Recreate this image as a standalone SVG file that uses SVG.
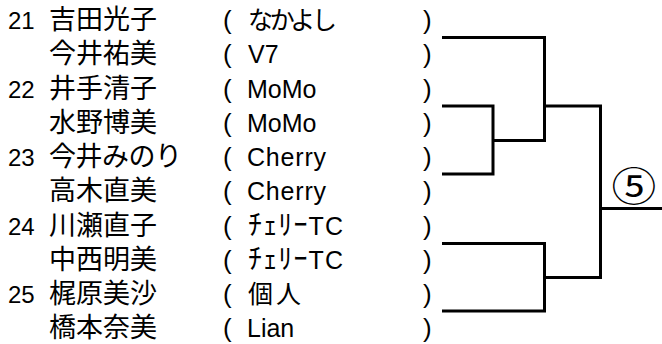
<svg xmlns="http://www.w3.org/2000/svg" width="662" height="344" viewBox="0 0 662 344">
<style>
text{font-family:"Liberation Sans","Noto Sans CJK JP",sans-serif;fill:#000}
.num{font-size:24px}
.name{font-family:"Noto Sans CJK JP",sans-serif;font-size:27px}
.par{font-size:26px}
.club{font-size:25px}
.jclub{font-family:"Noto Sans CJK JP",sans-serif;font-size:25px}
.kana{font-family:"Noto Sans CJK JP",sans-serif;font-size:28px}
.seed{font-family:"Noto Sans CJK JP",sans-serif;font-size:40px}
.ln{fill:none;stroke:#000;stroke-width:3;stroke-linejoin:miter;stroke-linecap:butt}
</style>
<rect width="662" height="344" fill="#fff"/>
<g id="row1">
<text class="num" x="8" y="29">21</text>
<text class="name" x="49" y="29">吉田光子</text>
<text class="par" x="223" y="29">(</text>
<text class="jclub" x="248" y="29" textLength="89">なかよし</text>
<text class="par" x="423" y="29">)</text>
</g>
<g id="row2">
<text class="name" x="49" y="63.25">今井祐美</text>
<text class="par" x="223" y="63.25">(</text>
<text class="club" x="248" y="63.25">V7</text>
<text class="par" x="423" y="63.25">)</text>
</g>
<g id="row3">
<text class="num" x="8" y="97.5">22</text>
<text class="name" x="49" y="97.5">井手清子</text>
<text class="par" x="223" y="97.5">(</text>
<text class="club" x="247" y="97.5">MoMo</text>
<text class="par" x="423" y="97.5">)</text>
</g>
<g id="row4">
<text class="name" x="49" y="131.75">水野博美</text>
<text class="par" x="223" y="131.75">(</text>
<text class="club" x="247" y="131.75">MoMo</text>
<text class="par" x="423" y="131.75">)</text>
</g>
<g id="row5">
<text class="num" x="8" y="166">23</text>
<text class="name" x="49" y="166" textLength="133">今井みのり</text>
<text class="par" x="223" y="166">(</text>
<text class="club" x="247" y="166" textLength="79">Cherry</text>
<text class="par" x="423" y="166">)</text>
</g>
<g id="row6">
<text class="name" x="49" y="200.25">高木直美</text>
<text class="par" x="223" y="200.25">(</text>
<text class="club" x="247" y="200.25" textLength="79">Cherry</text>
<text class="par" x="423" y="200.25">)</text>
</g>
<g id="row7">
<text class="num" x="8" y="234.5">24</text>
<text class="name" x="49" y="234.5">川瀬直子</text>
<text class="par" x="223" y="234.5">(</text>
<text class="club" x="248" y="234.5" textLength="95"><tspan class="kana">ﾁｪﾘｰ</tspan>TC</text>
<text class="par" x="423" y="234.5">)</text>
</g>
<g id="row8">
<text class="name" x="49" y="268.75">中西明美</text>
<text class="par" x="223" y="268.75">(</text>
<text class="club" x="248" y="268.75" textLength="95"><tspan class="kana">ﾁｪﾘｰ</tspan>TC</text>
<text class="par" x="423" y="268.75">)</text>
</g>
<g id="row9">
<text class="num" x="8" y="303">25</text>
<text class="name" x="49" y="303">梶原美沙</text>
<text class="par" x="223" y="303">(</text>
<text class="jclub" x="248" y="303" textLength="53">個人</text>
<text class="par" x="423" y="303">)</text>
</g>
<g id="row10">
<text class="name" x="49" y="337.25">橋本奈美</text>
<text class="par" x="223" y="337.25">(</text>
<text class="club" x="247" y="337.25">Lian</text>
<text class="par" x="423" y="337.25">)</text>
</g>
<g id="seed">
<text class="seed" transform="translate(634,200.5) scale(1.12,1)" x="0" y="0" text-anchor="middle">⑤</text>
</g>
<g id="connectors">
<path class="ln" d="M442,37.5 H544.5 V140.5 H493"/>
<path class="ln" d="M442,106 H493 V174 H442"/>
<path class="ln" d="M544.5,106 H600.5 V277.5 H544.5"/>
<path class="ln" d="M442,243.5 H544.5 V311 H442"/>
<path class="ln" d="M600.5,208.5 H662"/>
</g>
</svg>
